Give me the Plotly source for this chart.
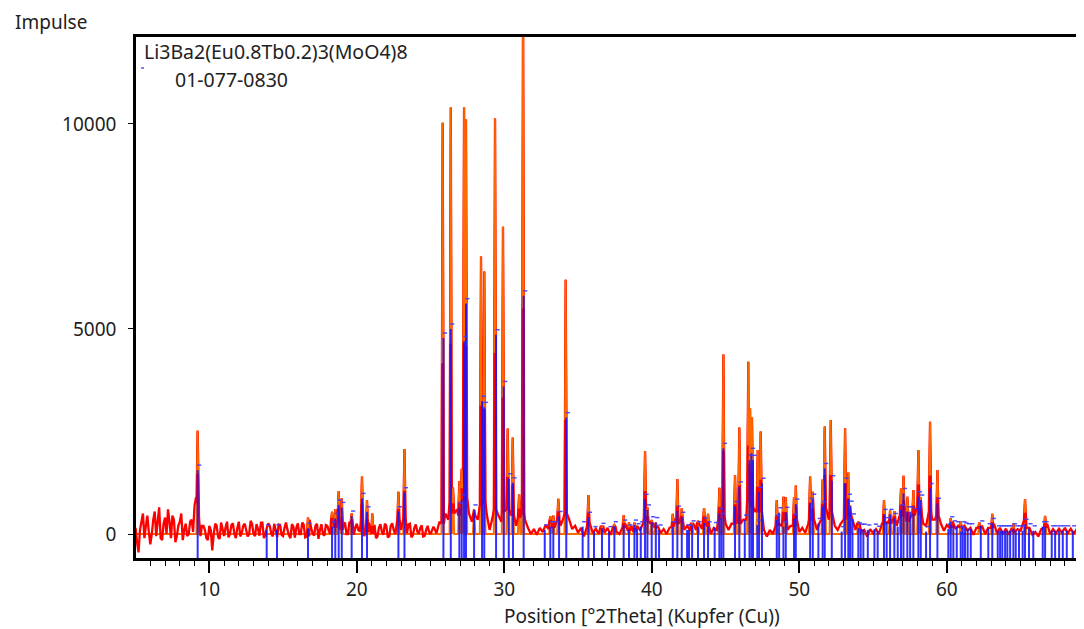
import plotly.graph_objects as go

# ---------------- data ----------------
BASE_START = 5.0
BASE_STEP = 0.2
# observed background (counts) at 5.0, 5.2, ... 69.2 deg 2Theta
BASELINE = [
    150, -450, 300, -100, 450, -250, 350, -50, 650, -150, 400, 600, -100, 350, -50, 300, -150, 250, 0, 350, 700, 750, -50, 200, -100,
    200, -400, 250, -80, 280, -50, 300, 0, 260, -100, 300, 20, 250, -60, 320, 0, 240, -40, 280, -20, 260, 10, 250, -80, 220,
    -50, 280, -30, 240, -90, 260, 0, 230, -60, 350, 20, 200, -120, 240, -40, 200, 0, 300, 150, 350, 100, 280, 0, 250, -20,
    250, 60, 300, 50, 280, 0, 220, -60, 240, -20, 200, -50, 260, 0, 330, 100, 380, 20, 250, -30, 230, 0, 210, -40, 200,
    0, 180, 20, 300, 250, 500, 350, 800, 500, 600, 450, 800, 900, 500, 300, 450, 350, 700, 800, 500, 100, 400, 600, 450, 300,
    550, 600, 500, 450, 200, 400, 500, 350, 150, 0, 120, -20, 150, 50, 220, 120, 300, 150, 350, 200, 380, 500, 350, 120, 200,
    30, 150, -60, 180, 250, 20, 130, 0, 200, 30, 150, -20, 180, 60, 0, 150, 250, 80, 200, 60, 200, 100, 250, 400, 300,
    250, 150, 200, 20, 120, 0, 150, 180, 380, 250, 320, 100, 200, 80, 250, 100, 250, 120, 300, 180, 0, 150, 80, 350, 450,
    250, 100, 250, 250, 450, 250, 350, 350, 800, 650, 550, 550, 550, 100, -60, 100, 0, 200, 250, 200, 300, 100, 200, 200, 350,
    50, 150, 30, 250, 350, 350, 100, 300, 350, 650, 350, 550, 200, 100, 250, 350, 650, 450, 350, 100, 250, 50, 100, -60, 120,
    20, 120, 0, 250, 250, 300, 250, 350, 200, 450, 450, 450, 300, 450, 450, 650, 450, 250, 200, 550, 350, 350, 450, 250, 80,
    220, 150, 300, 120, 220, 150, 200, 80, 150, -20, 150, 150, 180, 0, 150, 150, 250, 20, 150, 0, 130, -20, 150, 50, 120,
    80, 300, 150, 150, -20, 50, -60, 120, 150, 250, 0, 120, 20, 130, 30, 150, 20, 130, 0, 120, 100, 250,
]
# extra background readings in the noisy low-angle part, at 5.1, 5.3, ... 24.9 deg
MID_START = 5.1
MID_STEP = 0.2
BASELINE_MID = [
    -200, 100, 500, 200, 50, 0, 550, 300, -100, 250, 0, 300, 450, -200, 200, 500, 100, -50, 300, 50, 900, 400, 200, 100, -150,
    100, 0, 200, -120, 120, 150, -80, 220, 0, 150, -60, 200, 100, 0, 250, -50, 120, 280, -100, 150, 200, -60, 100, 230, -20,
    150, 100, -100, 180, 150, 0, 280, -80, 120, 150, -40, 250, 100, 0, 220, 80, 250, -50, 400, 100, 250, 0, 300, -50, 150,
    100, 200, -50, 250, 100, 300, -100, 150, 50, 250, -80, 200, 100, 230, 50, 280, 100, 230, -80, 150, 60, 150, -60, 100, 50,
]

# observed peaks: position (deg 2Theta) and top intensity (counts)
PEAK_POS = [9.21, 16.69, 18.32, 18.54, 18.77, 18.98, 19.65, 20.35, 20.69, 21.05, 22.82, 23.23,
            25.82, 26.37, 26.52, 26.95, 27.11, 27.27, 27.40, 27.95, 28.42, 28.64, 29.37, 29.91,
            30.23, 30.57, 31.00, 31.27, 33.12, 33.32, 33.66, 34.16, 35.70, 36.62, 37.46, 38.09,
            38.45, 38.82, 39.54, 39.70, 39.99, 40.27, 41.42, 41.73, 42.03, 42.73, 43.13, 43.54,
            43.81, 44.58, 44.85, 45.64, 45.93, 46.54, 46.66, 46.79, 47.18, 47.38, 48.47, 48.92,
            49.08, 49.64, 49.76, 50.73, 50.91, 51.58, 51.72, 52.13, 53.10, 53.32, 53.44, 54.00,
            55.74, 56.15, 56.44, 56.89, 57.06, 57.32, 57.73, 58.07, 58.23, 58.86, 59.36, 60.26,
            60.94, 62.20, 63.08, 64.51, 65.30, 66.66, 69.15]
PEAK_OBS = [2520, 400, 540, 610, 1050, 870, 505, 1400, 830, 500, 1030, 2070,
            10030, 10400, 1130, 1290, 1590, 10400, 10110, 600, 6770, 6400, 10130, 7490,
            2570, 2350, 960, 13000, 430, 450, 860, 6200, 950, 150, 220, 460,
            280, 280, 2020, 650, 340, 280, 490, 1340, 630, 250, 320, 630,
            490, 1130, 4380, 1440, 2600, 4200, 3060, 2840, 2050, 2500, 830, 910,
            900, 900, 1180, 1400, 1030, 1330, 2620, 2780, 2580, 1500, 700, 300,
            830, 570, 560, 1110, 1420, 910, 1070, 2050, 900, 2740, 1560, 390,
            300, 280, 490, 250, 850, 440, 300]

# reference pattern 01-077-0830: line positions and intensities
STICK_POS = [9.21, 13.89, 14.59, 16.69, 18.32, 18.54, 18.77, 18.98, 19.65, 20.35, 20.69, 22.82, 23.23,
             25.87, 26.37, 26.95, 27.11, 27.27, 27.40, 27.95, 28.49, 28.64, 29.44, 29.96, 30.30, 30.59,
             31.31, 32.74, 33.12, 33.32, 33.71, 34.20, 35.31, 35.70, 36.08, 36.62, 37.10, 37.46, 38.09,
             38.45, 38.82, 39.00, 39.25, 39.54, 39.70, 39.99, 40.27, 40.49, 41.42, 41.73, 42.03, 42.39,
             42.52, 42.73, 43.13, 43.54, 43.81, 44.26, 44.58, 44.71, 44.85, 45.64, 45.93, 46.30, 46.62,
             46.75, 46.86, 47.15, 47.27, 47.47, 48.47, 48.63, 48.92, 49.08, 49.64, 49.76, 50.73, 50.91,
             51.29, 51.58, 51.72, 52.20, 52.87, 53.10, 53.32, 53.44, 53.60, 54.00, 54.16, 54.34, 54.64,
             55.09, 55.31, 55.74, 55.92, 56.15, 56.44, 56.67, 56.89, 57.06, 57.32, 57.51, 57.73, 58.07,
             58.23, 58.59, 58.86, 59.36, 60.10, 60.26, 60.44, 60.67, 60.94, 61.08, 61.23, 61.41, 61.62,
             62.30, 62.81, 63.08, 63.45, 63.61, 63.76, 63.95, 64.10, 64.29, 64.51, 64.67, 64.89, 65.14,
             65.30, 65.57, 65.86, 66.50, 66.66, 67.11, 67.34, 67.61, 67.86, 68.13, 68.54]
STICK_INT = [1560, 100, 100, 140, 180, 380, 710, 650, 440, 870, 545, 545, 1010,
             4780, 5000, 630, 840, 4700, 5620, 590, 3240, 3090, 4860, 3600, 1350, 1250,
             5810, 100, 180, 180, 430, 2840, 180, 410, 60, 140, 60, 180, 220,
             100, 220, 130, 180, 850, 590, 300, 280, 100, 180, 560, 410, 100,
             100, 200, 180, 270, 180, 160, 500, 380, 2090, 670, 1150, 340, 1800,
             1970, 1800, 220, 1020, 1240, 340, 520, 180, 530, 370, 730, 750, 850,
             260, 670, 1600, 1300, 60, 1240, 850, 680, 370, 150, 120, 120, 100,
             120, 70, 480, 280, 480, 380, 180, 590, 990, 545, 545, 500, 910,
             830, 60, 1110, 750, 120, 300, 200, 180, 60, 180, 150, 130, 130,
             200, 130, 260, 80, 80, 80, 80, 80, 80, 130, 80, 80, 80,
             240, 130, 80, 180, 180, 80, 80, 80, 80, 80, 80]

X_TICKS = [10, 20, 30, 40, 50, 60]
Y_TICKS = [0, 5000, 10000]

# ---------------- styling constants ----------------
X_MIN, X_MAX = 5.03, 69.84
Y_MIN, Y_MAX = -585, 12120
HB = 0.08            # half base width of drawn peaks (deg)
FONT = "Noto Sans"
RED = "#ff0000"
ORANGE = "#ff6a00"
BLUE = "rgba(20,20,255,0.88)"

# ---------------- build traces ----------------
bg = [(round(BASE_START + i * BASE_STEP, 3), v) for i, v in enumerate(BASELINE)]
bg += [(round(MID_START + i * MID_STEP, 3), v) for i, v in enumerate(BASELINE_MID)]
bg.sort()


def nearest_base(p):
    i = int(round((p - BASE_START) / BASE_STEP))
    i = max(0, min(len(BASELINE) - 1, i))
    return BASELINE[i]


obs = [(x, y) for x, y in bg if all(abs(x - p) > HB for p in PEAK_POS)]
for p, h in zip(PEAK_POS, PEAK_OBS):
    b = nearest_base(p)
    obs += [(p - HB, b), (p, h), (p + HB, b)]
obs.sort()

calc = [(X_MIN, 0), (X_MAX, 0)]
for p, h in zip(PEAK_POS, PEAK_OBS):
    calc += [(p - HB, 0), (p, h), (p + HB, 0)]
calc.sort()

peak_x, peak_y = [], []
for p, h in zip(PEAK_POS, PEAK_OBS):
    b = nearest_base(p)
    peak_x += [p - HB * 0.6, p, p + HB * 0.6, None]
    peak_y += [b + (h - b) * 0.4, h, b + (h - b) * 0.4, None]

stick_x, stick_y = [], []
for p, h in zip(STICK_POS, STICK_INT):
    stick_x += [p, p, None]
    stick_y += [Y_MIN, h, None]

fig = go.Figure()
# drawing order: calculated baseline, observed, calculated peaks, reference sticks
fig.add_trace(go.Scatter(x=[c[0] for c in calc], y=[c[1] for c in calc], mode="lines",
                         line=dict(color=ORANGE, width=2), hoverinfo="skip"))
fig.add_trace(go.Scatter(x=[o[0] for o in obs], y=[o[1] for o in obs], mode="lines",
                         line=dict(color=RED, width=2.3, simplify=False)))
fig.add_trace(go.Scatter(x=peak_x, y=peak_y, mode="lines",
                         line=dict(color=ORANGE, width=1.6), hoverinfo="skip"))
fig.add_trace(go.Scatter(x=stick_x, y=stick_y, mode="lines",
                         line=dict(color=BLUE, width=2)))
fig.add_trace(go.Scatter(x=[p + 0.1 for p in STICK_POS], y=[h + 120 for h in STICK_INT],
                         mode="markers", hoverinfo="skip",
                         marker=dict(symbol="line-ew", size=3,
                                     line=dict(color="rgba(60,60,255,0.9)", width=1.5))))

# the page body adds 8 px around the plot div, so the div is offset to compensate;
# the plot area runs past the right edge of the window, as in the reference
fig.update_layout(
    width=1084, height=621,
    margin=dict(l=128, r=0, t=29, b=71),
    paper_bgcolor="white", plot_bgcolor="white",
    showlegend=False,
    font=dict(family=FONT, size=19, color="#222222"),
    xaxis=dict(range=[X_MIN, X_MAX], tickvals=X_TICKS, ticks="outside", ticklen=12,
               tickwidth=1.5, tickcolor="black", showline=True, linecolor="black",
               linewidth=2.5, mirror=True, showgrid=False, zeroline=False,
               tickfont=dict(size=19, family=FONT),
               minor=dict(dtick=1, tick0=0, ticks="outside", ticklen=5,
                          tickcolor="black", tickwidth=1, showgrid=False)),
    yaxis=dict(range=[Y_MIN, Y_MAX], tickvals=Y_TICKS, tickformat="d", ticks="outside",
               ticklen=5, tickcolor="black", showline=True, linecolor="black",
               linewidth=2.5, showgrid=False, zeroline=False,
               tickfont=dict(size=19, family=FONT), ticklabelstandoff=8),
    annotations=[
        dict(text="Impulse", xref="paper", yref="paper", x=-0.1287, y=1.0288,
             xanchor="left", yanchor="middle", showarrow=False, font=dict(size=19)),
        dict(text="Li3Ba2(Eu0.8Tb0.2)3(MoO4)8", xref="paper", yref="paper", x=0.0063, y=0.973,
             xanchor="left", yanchor="middle", showarrow=False, font=dict(size=19.5)),
        dict(text="01-077-0830", xref="paper", yref="paper", x=0.0387, y=0.9175,
             xanchor="left", yanchor="middle", showarrow=False, font=dict(size=19.5)),
        dict(text="Position [°2Theta] (Kupfer (Cu))", xref="paper", yref="paper",
             x=0.5293, y=-0.1114, xanchor="center", yanchor="middle", showarrow=False,
             font=dict(size=19)),
    ],
    shapes=[dict(type="line", xref="paper", yref="paper", x0=0.0052, x1=0.0084,
                 y0=0.9405, y1=0.9405, line=dict(color="blue", width=1))],
)

fig.write_html("out.html")
